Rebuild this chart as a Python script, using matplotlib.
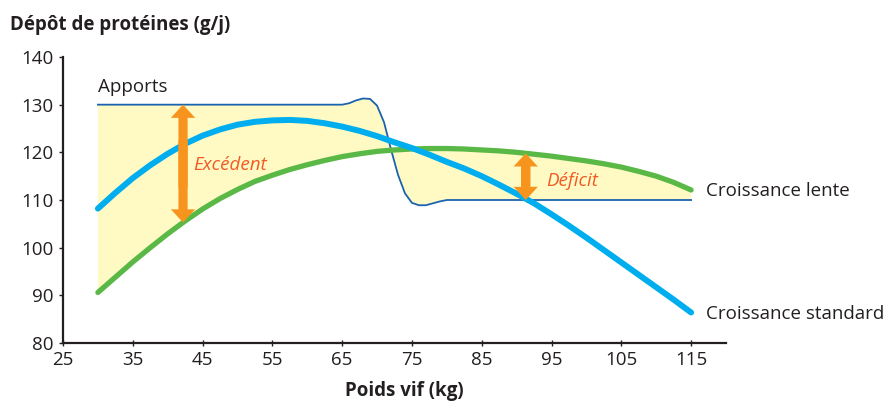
import numpy as np
import matplotlib
matplotlib.use("Agg")
import matplotlib.pyplot as plt
from matplotlib.patches import FancyArrowPatch

plt.rcParams['font.family'] = ['Open Sans', 'DejaVu Sans']

# ---- data ----
weight = [30, 32.5, 35, 37.5, 40, 42.5, 45, 47.5, 50, 52.5, 55, 57.5, 60, 62.5,
          65, 67.5, 70, 72.5, 75, 77.5, 80, 82.5, 85, 87.5, 90, 92.5, 95, 97.5,
          100, 102.5, 105, 107.5, 110, 112.5, 115]
standard = [108.2, 111.5, 114.6, 117.3, 119.7, 121.8, 123.5, 124.8, 125.8, 126.4,
            126.7, 126.8, 126.6, 126.1, 125.4, 124.5, 123.4, 122.1, 120.9, 119.5,
            118.0, 116.6, 115.0, 113.2, 111.3, 109.3, 107.0, 104.6, 102.1, 99.5,
            96.9, 94.3, 91.7, 89.1, 86.4]
lente = [90.6, 93.8, 97.0, 100.0, 102.9, 105.6, 108.1, 110.3, 112.2, 113.9,
         115.2, 116.4, 117.4, 118.3, 119.1, 119.7, 120.2, 120.5, 120.7, 120.8,
         120.8, 120.7, 120.5, 120.3, 120.0, 119.6, 119.2, 118.7, 118.2, 117.6,
         116.9, 116.0, 115.0, 113.7, 112.1]
apports_x = [30, 65, 66, 67, 68, 69, 70, 71, 72, 73, 74, 75, 76, 77, 78, 79, 80, 115]
apports_y = [130, 130, 130.3, 130.9, 131.3, 131.2, 129.8, 126.3, 120.6, 115.3,
             111.4, 109.4, 108.9, 108.9, 109.3, 109.7, 110, 110]
xticks = [25, 35, 45, 55, 65, 75, 85, 95, 105, 115]
yticks = [80, 90, 100, 110, 120, 130, 140]

BLUE = '#00AEEF'
GREEN = '#5AB946'
DARKBLUE = '#1B63AE'
FILL = '#FFF9C4'
ORANGE = '#F7941D'
TXTORANGE = '#F15A24'
DARK = '#231F20'

fig = plt.figure(figsize=(8.85, 4.03), dpi=100)
ax = fig.add_axes([63/885, 1-343/403, (726-63)/885, (343-57)/403])
ax.set_xlim(25, 120)
ax.set_ylim(80, 140)

# yellow zone between apports and slow growth
ax.fill(np.r_[apports_x, weight[::-1]], np.r_[apports_y, lente[::-1]],
        color=FILL, lw=0, zorder=1)
ax.plot(apports_x, apports_y, color=DARKBLUE, lw=1.3, zorder=3)
ax.plot(weight, lente, color=GREEN, lw=3.8, solid_capstyle='round', zorder=4)
ax.plot(weight, standard, color=BLUE, lw=4.3, solid_capstyle='round', zorder=5)

def double_arrow(x):
    top = np.interp(x, apports_x, apports_y)
    bot = np.interp(x, weight, lente)
    span = top - bot
    mid = (top + bot) / 2
    for start, end in ((mid - 0.2 * span, top), (mid + 0.2 * span, bot)):
        a = FancyArrowPatch((x, start), (x, end),
                            arrowstyle='simple,head_length=0.95,head_width=1.75,tail_width=0.66',
                            mutation_scale=10, color=ORANGE, lw=0, zorder=6,
                            shrinkA=0, shrinkB=0)
        ax.add_patch(a)

double_arrow(42.2)
double_arrow(91.3)

fs = 13.5
ax.text(43.6, 116.3, 'Excédent', color=TXTORANGE, style='italic', fontsize=fs, va='baseline', ha='left', zorder=7)
ax.text(94.3, 113.0, 'Déficit', color=TXTORANGE, style='italic', fontsize=fs, va='baseline', ha='left', zorder=7)
ax.text(30, 132.7, 'Apports', color=DARK, fontsize=fs, va='baseline', ha='left')
ax.text(117.1, 110.9, 'Croissance lente', color=DARK, fontsize=fs, va='baseline', ha='left', clip_on=False)
ax.text(117.1, 85.1, 'Croissance standard', color=DARK, fontsize=fs, va='baseline', ha='left', clip_on=False)

for s in ('top', 'right'):
    ax.spines[s].set_visible(False)
for s in ('left', 'bottom'):
    ax.spines[s].set_color(DARK)
    ax.spines[s].set_linewidth(1.6)
ax.set_xticks(xticks)
ax.set_yticks(yticks)
ax.tick_params(axis='x', direction='inout', length=4, width=1, colors=DARK, labelsize=fs, pad=4)
ax.tick_params(axis='y', direction='out', length=3, width=1, colors=DARK, labelsize=fs, pad=4)

fig.text(10/885, 1-30/403, 'Dépôt de protéines (g/j)', fontsize=fs, fontweight='bold', color=DARK, va='baseline', ha='left')
fig.text(345/885, 1-396/403, 'Poids vif (kg)', fontsize=fs, fontweight='bold', color=DARK, va='baseline', ha='left')

fig.savefig('out.png', dpi=100)
